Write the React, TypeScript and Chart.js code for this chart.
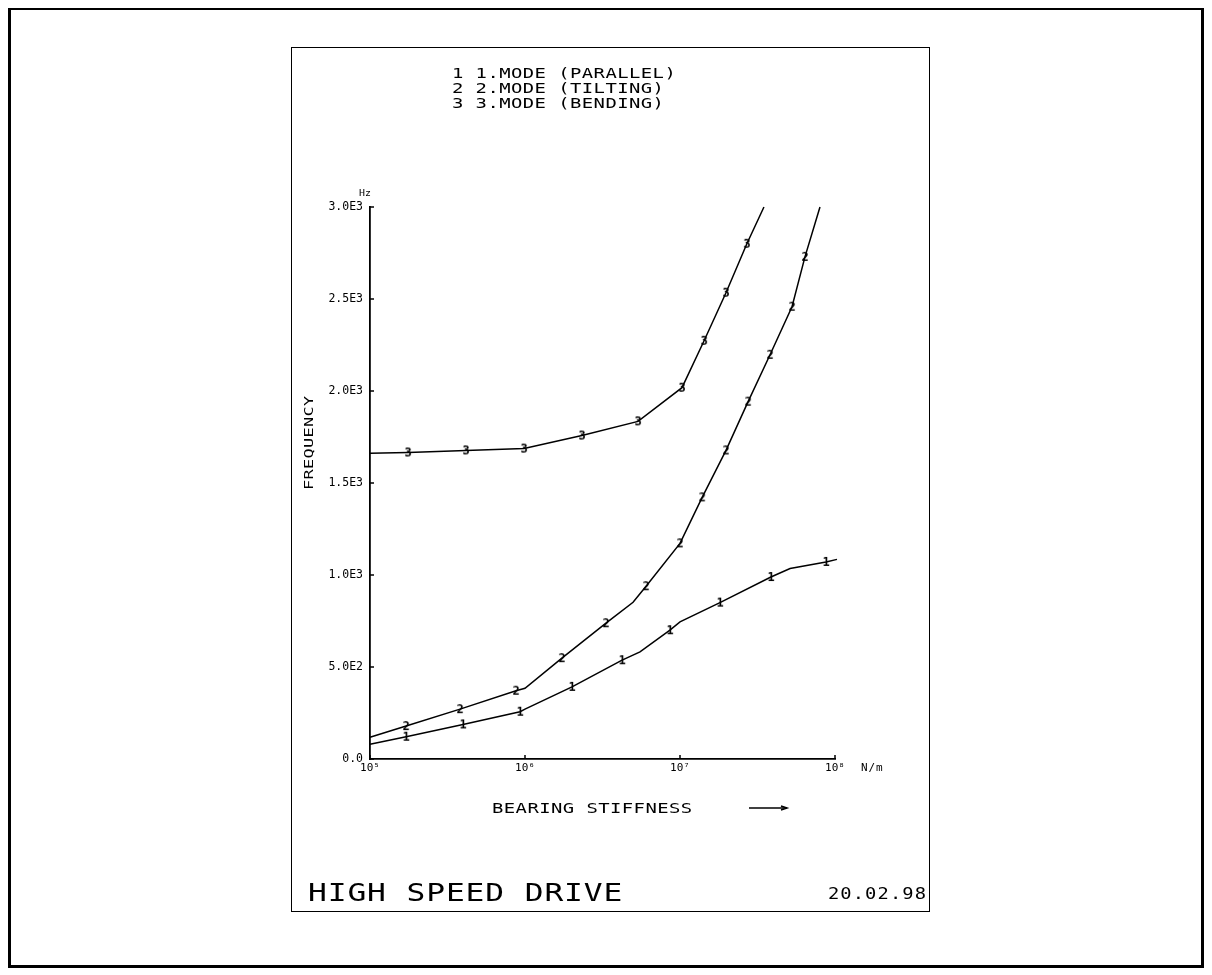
import React, { useEffect, useRef } from "react";
import { Chart, registerables } from "chart.js";

Chart.register(...registerables);

// ---- axis ticks ----
const xTickValues = [1e5, 1e6, 1e7, 1e8];
const xTickLabels = ["10\u2075", "10\u2076", "10\u2077", "10\u2078"];
const yTickLabels = ["0.0", "5.0E2", "1.0E3", "1.5E3", "2.0E3", "2.5E3", "3.0E3"];

// ---- texts ----
const legendLines = ["1 1.MODE (PARALLEL)", "2 2.MODE (TILTING)", "3 3.MODE (BENDING)"];
const seriesDigits = ["1", "2", "3"];
const yUnit = "Hz";
const xUnit = "N/m";
const yTitle = "FREQUENCY";
const xTitle = "BEARING STIFFNESS";
const plotTitle = "HIGH SPEED DRIVE";
const plotDate = "20.02.98";

// ---- series: 1. mode (parallel) ----
const mode1Stiffness = [1e5, 1.71e5, 3.98e5, 9.29e5, 1e6, 2.01e6, 4.23e6, 5.52e6, 8.61e6, 1e7, 1.81e7, 3.86e7, 5.13e7, 8.75e7, 1.03e8];
const mode1Freq = [80, 121, 188, 257, 271, 392, 537, 582, 700, 745, 850, 989, 1035, 1071, 1085];
const mode1Marked = [0, 1, 1, 1, 0, 1, 1, 0, 1, 0, 1, 1, 0, 1, 0];

// ---- series: 2. mode (tilting) ----
const mode2Stiffness = [1e5, 1.71e5, 3.81e5, 8.75e5, 1e6, 1.73e6, 3.33e6, 4.98e6, 6.04e6, 1e7, 1.39e7, 1.98e7, 2.75e7, 3.81e7, 5.28e7, 6.4e7, 8.0e7];
const mode2Freq = [118, 179, 271, 371, 384, 548, 738, 852, 939, 1172, 1422, 1677, 1942, 2197, 2458, 2729, 3000];
const mode2Marked = [0, 1, 1, 1, 0, 1, 1, 0, 1, 1, 1, 1, 1, 1, 1, 1, 0];

// ---- series: 3. mode (bending) ----
const mode3Stiffness = [1e5, 1.76e5, 4.16e5, 9.86e5, 2.33e6, 5.36e6, 1.03e7, 1.43e7, 1.98e7, 2.7e7, 3.48e7];
const mode3Freq = [1662, 1666, 1677, 1687, 1758, 1835, 2018, 2273, 2534, 2800, 3000];
const mode3Marked = [0, 1, 1, 1, 1, 1, 1, 1, 1, 1, 0];

const MONO = '"DejaVu Sans Mono", "Liberation Mono", monospace';

function makeDigit(d: string): HTMLCanvasElement {
  const c = document.createElement("canvas");
  c.width = 12;
  c.height = 14;
  const g = c.getContext("2d")!;
  g.fillStyle = "#000";
  g.font = `bold 12px ${MONO}`;
  g.textAlign = "center";
  g.textBaseline = "middle";
  g.fillText(d, 6, 7.5);
  return c;
}

// draw plotter-style text: monospace, widened to a given advance per character
function text(
  ctx: CanvasRenderingContext2D,
  s: string,
  x: number,
  y: number,
  size: number,
  advance: number,
  align: "left" | "right" | "center" = "left",
  sx = 1.3
) {
  ctx.save();
  ctx.font = `${size}px ${MONO}`;
  ctx.fillStyle = "#000";
  ctx.textAlign = "left";
  ctx.textBaseline = "alphabetic";
  const natural = ctx.measureText("M").width;
  const spacing = Math.max(0, advance / sx - natural);
  (ctx as any).letterSpacing = `${spacing}px`;
  const total = s.length * advance - spacing * sx;
  let left = x;
  if (align === "right") left = x - total;
  if (align === "center") left = x - total / 2;
  ctx.translate(left, y);
  ctx.scale(sx, 1);
  ctx.fillText(s, 0, 0);
  ctx.restore();
}

const decorPlugin = {
  id: "decor",
  afterDraw(chart: any) {
    const ctx: CanvasRenderingContext2D = chart.ctx;
    const a = chart.chartArea;
    const xs = chart.scales.x;
    const ys = chart.scales.y;
    // inward tick marks
    ctx.save();
    ctx.strokeStyle = "#000";
    ctx.lineWidth = 1.5;
    ctx.beginPath();
    for (const t of ys.ticks) {
      const py = ys.getPixelForValue(t.value);
      ctx.moveTo(a.left, py);
      ctx.lineTo(a.left + 4, py);
    }
    for (const t of xs.ticks) {
      const px = xs.getPixelForValue(t.value);
      ctx.moveTo(px, a.bottom);
      ctx.lineTo(px, a.bottom - 4);
    }
    ctx.stroke();
    ctx.restore();

    // legend block
    legendLines.forEach((l, i) => text(ctx, l, 160, 30 + i * 15, 14, 11.8, "left", 1.35));
    // units
    text(ctx, yUnit, a.left - 5, a.top - 11, 9, 6, "center", 1.1);
    text(ctx, xUnit, a.right + 26, a.bottom + 12, 10, 7.5, "left", 1.1);
    // y title (rotated)
    ctx.save();
    ctx.translate(21, 395);
    ctx.rotate(-Math.PI / 2);
    text(ctx, yTitle, 0, 0, 13, 10.5, "center", 1.3);
    ctx.restore();
    // x title and arrow
    text(ctx, xTitle, 200, 765, 14, 11.8, "left", 1.35);
    ctx.save();
    ctx.strokeStyle = "#000";
    ctx.lineWidth = 1.5;
    ctx.beginPath();
    ctx.moveTo(457, 760);
    ctx.lineTo(495, 760);
    ctx.stroke();
    ctx.beginPath();
    ctx.moveTo(489, 758);
    ctx.lineTo(495, 760);
    ctx.lineTo(489, 762);
    ctx.stroke();
    ctx.restore();
    // footer
    text(ctx, plotTitle, 16, 853, 25, 19.7, "left", 1.25);
    text(ctx, plotDate, 634, 851, 15, 12.4, "right", 1.25);
  },
};

function series(xs: number[], ys: number[], marked: number[], digit: string) {
  const img = makeDigit(digit);
  return {
    data: xs.map((x, i) => ({ x, y: ys[i] })),
    showLine: true,
    borderColor: "#000",
    borderWidth: 1.5,
    tension: 0,
    clip: false as any,
    pointStyle: img,
    pointRadius: (c: any) => (marked[c.dataIndex] ? 5 : 0),
    pointHoverRadius: 0,
  };
}

export default function App() {
  const ref = useRef<HTMLCanvasElement>(null);
  useEffect(() => {
    document.body.style.overflow = "hidden";
    const chart = new Chart(ref.current!, {
      type: "scatter",
      data: {
        datasets: [
          series(mode1Stiffness, mode1Freq, mode1Marked, seriesDigits[0]),
          series(mode2Stiffness, mode2Freq, mode2Marked, seriesDigits[1]),
          series(mode3Stiffness, mode3Freq, mode3Marked, seriesDigits[2]),
        ] as any,
      },
      options: {
        animation: false,
        responsive: false,
        maintainAspectRatio: false,
        events: [],
        layout: { padding: { left: 0, right: 94, top: 159, bottom: 0 } },
        plugins: { legend: { display: false }, tooltip: { enabled: false } },
        scales: {
          x: {
            type: "logarithmic",
            min: 1e5,
            max: 1e8,
            afterBuildTicks: (s: any) => {
              s.ticks = xTickValues.map((v) => ({ value: v }));
            },
            afterFit: (s: any) => {
              s.height = 152;
            },
            grid: { display: false, drawTicks: false },
            border: { display: true, color: "#000", width: 1.8 },
            ticks: {
              color: "#000",
              font: { family: MONO, size: 11 },
              padding: 3,
              maxRotation: 0,
              autoSkip: false,
              callback: (_v: any, i: number) => xTickLabels[i],
            },
          },
          y: {
            type: "linear",
            min: 0,
            max: 3000,
            afterFit: (s: any) => {
              s.width = 78;
            },
            grid: { display: false, drawTicks: false },
            border: { display: true, color: "#000", width: 1.8 },
            ticks: {
              stepSize: 500,
              color: "#000",
              font: { family: MONO, size: 11.5 },
              padding: 7,
              callback: (_v: any, i: number) => yTickLabels[i],
            },
          },
        },
      },
      plugins: [decorPlugin],
    });
    return () => chart.destroy();
  }, []);

  return (
    <div
      style={{
        position: "relative",
        width: 1196,
        height: 961,
        marginTop: -1,
        border: "3px solid #000",
        boxSizing: "border-box",
        background: "#fff",
      }}
    >
      <div
        style={{
          position: "absolute",
          left: 280,
          top: 37,
          width: 639,
          height: 865,
          border: "1px solid #000",
          boxSizing: "border-box",
        }}
      >
        <canvas ref={ref} width={637} height={863} style={{ display: "block" }} />
      </div>
    </div>
  );
}
